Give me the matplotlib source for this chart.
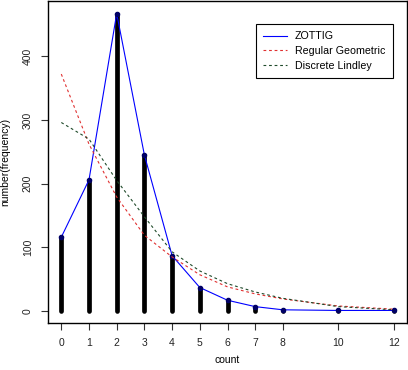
import matplotlib
matplotlib.use("Agg")
import matplotlib.pyplot as plt
from matplotlib.lines import Line2D

plt.rcParams['font.family'] = ['Liberation Sans', 'DejaVu Sans']

counts = [0, 1, 2, 3, 4, 5, 6, 7, 8, 10, 12]
observed = [116, 206, 467, 245, 87, 37, 17, 7, 2, 1, 1]
zottig = [116, 206, 467, 245, 87, 37, 17, 7, 2, 1, 1]
geometric = [372, 262, 179, 119, 85, 57, 38, 27, 19, 8, 3]
lindley = [296, 270, 205, 148, 93, 63, 43, 30, 20, 7, 2]
xticks = [0, 1, 2, 3, 4, 5, 6, 7, 8, 10, 12]
yticks = [0, 100, 200, 300, 400]

fig = plt.figure(figsize=(4.08, 3.70), dpi=100)
ax = fig.add_axes([48/408, 47/370, 359/408, 322/370])

ax.vlines(counts, 0, observed, colors='black', linewidth=3.4, capstyle='round')
ax.plot(counts, zottig, color='#0000ff', linewidth=0.8)
ax.plot(counts, zottig, 'o', color='#000066', markersize=3)
ax.plot(counts, geometric, color='#e03030', linewidth=0.8, linestyle=(0, (2.5, 2.5)))
ax.plot(counts, lindley, color='#1f4a2a', linewidth=0.8, linestyle=(0, (2.5, 2.5)))

ax.set_xlim(-0.48, 12.48)
ax.set_ylim(-18.7, 486.7)
ax.set_xticks(xticks)
ax.set_xticklabels([str(t) for t in xticks])
ax.set_yticks(yticks)
ax.set_yticklabels([str(t) for t in yticks], rotation=90, va='center')
ax.tick_params(direction='out', length=5, width=0.8, labelsize=7.5, pad=6, color='#333333', labelcolor='#222222')
for s in ax.spines.values():
    s.set_linewidth(1.0)
ax.set_xlabel('count', fontsize=7.5, va='center')
ax.xaxis.set_label_coords(0.5, -0.115)
ax.set_ylabel('number(frequency)', fontsize=7.5, va='center')
ax.yaxis.set_label_coords(-0.118, 0.5)

handles = [
    Line2D([], [], color='#0000ff', linewidth=0.8),
    Line2D([], [], color='#e03030', linewidth=0.8, linestyle=(0, (2.5, 2.5))),
    Line2D([], [], color='#1f4a2a', linewidth=0.8, linestyle=(0, (2.5, 2.5))),
]
leg = ax.legend(handles, ['ZOTTIG', 'Regular Geometric', 'Discrete Lindley'],
                loc='upper left', bbox_to_anchor=(0.578, 0.929), fontsize=7.7,
                fancybox=False, framealpha=1, edgecolor='black', handlelength=2.2,
                labelspacing=0.45, borderpad=0.7, handletextpad=0.8, borderaxespad=0)
leg.get_frame().set_linewidth(0.8)

fig.savefig('out.png', dpi=100)
